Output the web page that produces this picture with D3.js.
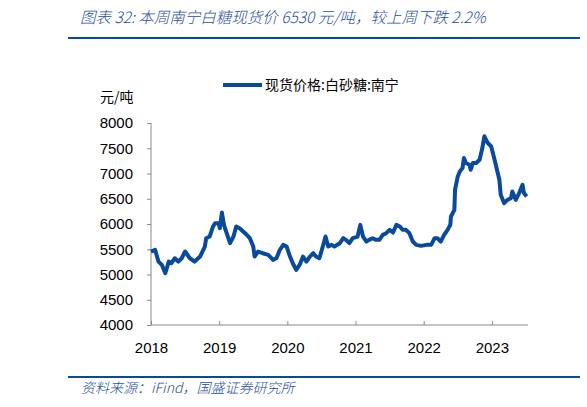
<!DOCTYPE html>
<html><head><meta charset="utf-8">
<script src="https://cdn.jsdelivr.net/npm/d3@7"></script>
<style>body{margin:0;background:#fff}svg{display:block}</style></head>
<body><svg id="c" width="587" height="407"></svg>
<script>
const years=[2018.00,2018.06,2018.11,2018.16,2018.21,2018.26,2018.30,2018.35,2018.40,2018.45,2018.50,2018.57,2018.64,2018.72,2018.79,2018.81,2018.86,2018.91,2018.94,2018.99,2019.01,2019.04,2019.07,2019.11,2019.16,2019.21,2019.25,2019.30,2019.38,2019.45,2019.50,2019.52,2019.57,2019.64,2019.72,2019.79,2019.84,2019.89,2019.94,2019.99,2020.03,2020.08,2020.13,2020.18,2020.23,2020.28,2020.33,2020.38,2020.42,2020.47,2020.52,2020.56,2020.60,2020.65,2020.69,2020.77,2020.82,2020.86,2020.91,2020.96,2021.03,2021.07,2021.11,2021.16,2021.20,2021.25,2021.30,2021.35,2021.40,2021.45,2021.50,2021.55,2021.60,2021.65,2021.69,2021.74,2021.79,2021.84,2021.89,2021.96,2022.04,2022.11,2022.16,2022.20,2022.25,2022.30,2022.35,2022.39,2022.40,2022.45,2022.46,2022.50,2022.53,2022.57,2022.59,2022.62,2022.67,2022.69,2022.72,2022.77,2022.82,2022.86,2022.89,2022.94,2022.99,2023.04,2023.11,2023.13,2023.18,2023.23,2023.28,2023.30,2023.35,2023.40,2023.45,2023.47,2023.51];
const prices=[5455,5488,5256,5190,5025,5256,5223,5322,5256,5322,5455,5322,5256,5355,5554,5719,5752,5950,6016,6016,5917,6228,5983,5818,5620,5752,5950,5917,5818,5719,5554,5355,5455,5421,5388,5289,5322,5488,5587,5554,5388,5223,5091,5190,5355,5256,5355,5421,5355,5322,5554,5752,5554,5587,5554,5620,5719,5686,5620,5719,5752,5983,5752,5653,5686,5719,5686,5686,5785,5818,5884,5831,5983,5950,5884,5884,5818,5653,5587,5567,5587,5587,5719,5719,5653,5785,5884,5983,6149,6281,6678,6942,7041,7107,7306,7207,7174,7074,7207,7207,7273,7504,7736,7603,7537,7273,6876,6578,6413,6479,6512,6645,6479,6612,6777,6612,6545];
const yTicks=[4000,4500,5000,5500,6000,6500,7000,7500,8000];
const xTicks=[2018,2019,2020,2021,2022,2023];
const seriesName="现货价格:白砂糖:南宁";
const unit="元/吨";
const title="图表 32:  本周南宁白糖现货价 6530 元/吨，较上周下跌 2.2%";
const source="资料来源：iFind，国盛证券研究所";

const svg=d3.select("#c");
const blue="#0a4a9c";
const x=d3.scaleLinear().domain([2018,2023.53]).range([151,528]);
const y=d3.scaleLinear().domain([4000,8000]).range([325,123]);
const font="'Liberation Sans', Arial, sans-serif";
const cjk="'Noto Sans CJK SC', sans-serif";

svg.append("text").attr("x",80).attr("y",23).attr("fill","#1f4e9c").attr("font-size",15.5)
 .attr("font-style","italic").attr("font-weight",300).attr("font-family",cjk).text(title);
svg.append("line").attr("x1",68).attr("x2",580).attr("y1",38).attr("y2",38).attr("stroke",blue).attr("stroke-width",2);
svg.append("line").attr("x1",68).attr("x2",580).attr("y1",377).attr("y2",377).attr("stroke",blue).attr("stroke-width",2);
svg.append("text").attr("x",81).attr("y",393).attr("fill","#1f4e9c").attr("font-size",14)
 .attr("font-style","italic").attr("font-weight",300).attr("font-family",cjk).text(source);

// legend
svg.append("line").attr("x1",223).attr("x2",262).attr("y1",85).attr("y2",85).attr("stroke",blue).attr("stroke-width",4);
svg.append("text").attr("x",265).attr("y",90).attr("font-size",14).attr("fill","#000")
 .attr("font-family",cjk).text(seriesName);
svg.append("text").attr("x",100).attr("y",102).attr("font-size",14).attr("fill","#000")
 .attr("font-family",cjk).text(unit);

// y axis
const ya=svg.append("g").attr("transform","translate(151,0)")
 .call(d3.axisLeft(y).tickValues(yTicks).tickSize(4).tickPadding(14).tickFormat(d3.format("d")));
ya.selectAll("text").attr("font-size",15).attr("font-family",font).attr("fill","#000");
ya.selectAll("line,path").attr("stroke","#888");
ya.select("path").attr("d","M0,123V325");
// x axis
const xa=svg.append("g").attr("transform","translate(0,325)")
 .call(d3.axisBottom(x).tickValues(xTicks).tickSize(-4).tickPadding(14).tickFormat(d3.format("d")));
xa.selectAll("line,path").attr("stroke","#888");
xa.select("path").attr("d","M151,0H528");
xa.selectAll("text").attr("font-size",15).attr("font-family",font).attr("fill","#000").attr("dy","0.9em");

svg.append("path").datum(years.map((t,i)=>[t,prices[i]]))
 .attr("fill","none").attr("stroke",blue).attr("stroke-width",4).attr("stroke-linejoin","round")
 .attr("d",d3.line().x(d=>x(d[0])).y(d=>y(d[1])));
</script></body></html>
